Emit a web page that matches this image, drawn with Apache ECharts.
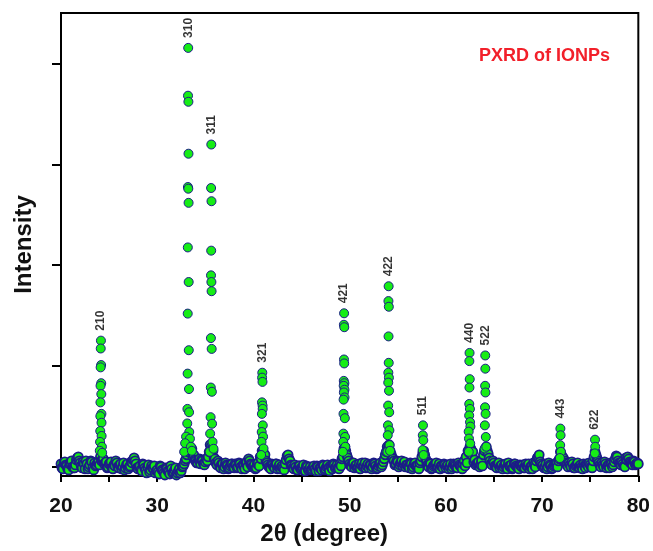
<!DOCTYPE html>
<html>
<head>
<meta charset="utf-8">
<script src="https://cdn.jsdelivr.net/npm/echarts@6/dist/echarts.min.js"></script>
<style>
  html, body { margin: 0; padding: 0; background: #fff; }
  #chart { width: 653px; height: 551px; }
</style>
</head>
<body>
<div id="chart"></div>
<script>
// background scan, one value every 0.2 degree from 20.0 to 80.0
var bgStart = 20;
var bgStep = 0.2;
var background = [
  30, -20, 50, 10, -30, 40, 0, -10, 70, 100,
  40, -10, 30, 60, -20, 20, 50, -30, 10, 40,
  20, 60, 80, 40, -10, 30, 50, -20, 10, 40,
  -10, 30, 0, -30, 20, -20, 10, 40, 90, 30,
  -20, 10, -40, 20, -30, 0, -50, 10, -20, -60,
  -30, -70, 0, -40, -80, -20, -50, 10, -60, -30,
  -80, -40, -60, 0, 30, 80, 150, 200, 180, 120,
  60, 40, 80, 70, 30, 50, 60, 150, 200, 160,
  80, 20, 40, -10, 30, 0, 20, -20, 10, 30,
  -10, 20, 0, 30, -20, 10, 40, 0, 60, 20,
  0, -20, 30, 10, 80, 150, 120, 40, 0, -20,
  20, -10, 30, 0, -20, 10, -30, 70, 120, 60,
  10, -20, 0, -30, 10, -10, 20, -40, 0, -20,
  -30, 0, -20, 10, -40, -10, 20, -30, 0, -10,
  10, -20, 20, 0, -10, 30, 80, 180, 160, 90,
  30, 0, 40, 10, -10, 30, 20, 0, 40, 10,
  -10, 20, 0, 30, -20, 10, 40, 20, 80, 150,
  180, 160, 100, 60, 30, 50, 20, 60, 30, 0,
  20, -10, 30, 0, 40, 10, -20, 60, 140, 120,
  50, 0, 30, -10, 20, 40, 0, -20, 10, 30,
  -10, 20, 0, -20, 30, 10, -10, 20, 0, 30,
  10, 40, 140, 180, 150, 70, 30, 50, 20, 10,
  160, 200, 130, 60, 20, 40, 0, 30, -10, 20,
  0, 30, -20, 10, 20, -10, 30, 0, -20, 10,
  20, -10, 10, 30, 0, -20, 20, 60, 100, 50,
  10, -10, 30, 0, 20, -20, 10, 30, 0, 80,
  120, 90, 60, 20, 40, 0, 30, -10, 20, 0,
  20, -20, 10, 30, 0, 20, -10, 100, 120, 60,
  20, 40, 0, 30, 10, -10, 30, 20, 80, 100,
  40, 20, 30, 0, 70, 80, 40, 20, 50, 30,
  30
];
// the in-between readings, 20.1 to 79.9
var bgStart2 = 20.1;
var background2 = [
  -10, 40, 20, -20, 30, 60, -10, 20, 90, 60,
  10, 50, -20, 30, 0, 60, -10, 40, 20, 50,
  100, 70, 30, 50, 0, 40, -10, 20, 60, 0,
  20, -20, 40, -10, 30, 0, 50, 70, 60, -10,
  0, -30, 30, -10, -60, 20, -30, -10, 10, -40,
  -50, 10, -30, -60, -10, -40, -70, -20, -50, -10,
  -60, -20, -40, 10, 60, 120, 200, 160, 100, 70,
  40, 70, 30, 60, 20, 80, 100, 220, 180, 90,
  40, 60, 0, 30, -20, 40, 10, -10, 30, 0,
  30, -10, 40, 0, 20, -20, 50, 80, 30, 0,
  20, -10, 40, 100, 160, 130, 60, 20, -10, 30,
  0, 30, -20, 20, 0, -10, 30, 110, 80, 20,
  -10, 20, -30, 10, -20, 0, -40, 10, -30, 0,
  -20, 10, -40, 0, -10, -30, 10, -20, 20, -40,
  0, 30, -10, 20, -20, 10, 100, 200, 120, 60,
  10, 40, -10, 20, 0, -20, 40, 10, -10, 30,
  20, -20, 40, 10, -10, 30, 0, 50, 120, 200,
  220, 130, 80, 20, 60, 0, 40, 10, 50, 20,
  0, 40, -20, 30, 10, 20, 40, 100, 160, 80,
  20, 40, -20, 10, 30, -10, 30, 10, -10, 20,
  10, -20, 30, 0, 20, -10, 40, 10, -20, 60,
  100, 160, 200, 120, 50, 20, 40, 0, 60, 120,
  180, 160, 90, 30, 60, 10, -10, 40, 10, -20,
  20, -10, 40, 0, -20, 30, 10, -10, 20, 0,
  -10, 30, 0, -20, 10, 40, 0, 90, 120, 30,
  20, 0, -20, 40, 10, -10, 20, 40, 60, 150,
  100, 50, 40, 0, 20, 50, -10, 10, 40, -10,
  0, 30, -10, 20, 40, 0, 60, 150, 90, 40,
  0, 20, 50, -10, 20, 40, 0, 50, 110, 60,
  30, 50, 10, 90, 100, 50, 30, 60, 20, 40
];

// points on each reflection [2theta, intensity]
var peak210 = [[24.15,1252],[24.13,1174],[24.17,1010],[24.12,987],[24.18,830],[24.11,804],[24.19,722],[24.1,640],[24.2,526],[24.09,503],[24.21,438],[24.08,356],[24.22,307],[24.06,248],[24.25,200],[24.03,160],[24.28,140]];
var peak310 = [[33.22,4154],[33.2,3680],[33.24,3620],[33.25,3105],[33.19,2775],[33.23,2758],[33.26,2618],[33.18,2176],[33.27,1833],[33.17,1520],[33.28,1157],[33.16,925],[33.3,772],[33.14,575],[33.31,542],[33.12,431],[33.33,346],[33.0,300],[33.4,280],[32.9,235],[33.5,200],[32.8,150],[33.6,160]];
var peak311 = [[35.62,3196],[35.6,2765],[35.64,2634],[35.61,2144],[35.59,1899],[35.63,1833],[35.65,1742],[35.58,1277],[35.66,1170],[35.57,787],[35.68,745],[35.55,493],[35.7,428],[35.5,330],[35.75,248],[35.45,150],[35.85,180]];
var peak321 = [[40.92,934],[40.9,885],[40.94,843],[40.89,640],[40.95,608],[40.96,575],[40.88,526],[40.97,412],[40.86,346],[41.0,300],[40.84,248],[41.05,183],[40.8,118]];
var peak421 = [[49.42,1523],[49.4,1409],[49.44,1385],[49.41,1065],[49.43,1026],[49.39,853],[49.45,830],[49.38,804],[49.46,765],[49.4,738],[49.47,689],[49.37,667],[49.36,526],[49.5,483],[49.35,330],[49.52,297],[49.33,248],[49.55,200],[49.3,150]];
var peak422 = [[54.05,1791],[54.03,1644],[54.07,1588],[54.04,1294],[54.06,1032],[54.02,934],[54.08,885],[54.01,836],[54.09,755],[54.0,608],[54.11,542],[53.98,412],[54.13,363],[53.96,314],[54.15,216],[53.93,150],[54.2,160]];
var peak511 = [[57.62,412],[57.6,314],[57.65,265],[57.58,167],[57.68,118]];
var peak440 = [[62.46,1130],[62.44,1049],[62.48,870],[62.45,787],[62.43,624],[62.5,575],[62.42,510],[62.51,444],[62.55,400],[62.37,350],[62.4,281],[62.53,232],[62.38,150]];
var peak522 = [[64.09,1105],[64.1,974],[64.08,804],[64.11,738],[64.07,591],[64.13,526],[64.05,412],[64.15,297],[64.03,183],[64.2,200]];
var peak443 = [[71.9,380],[71.92,314],[71.88,216],[71.95,150],[71.85,88]];
var peak622 = [[75.5,270],[75.52,200],[75.48,134]];

// Miller indices written above the peaks
var hklNames = ['210', '310', '311', '321', '421', '422', '511', '440', '522', '443', '622'];
var hklAngles = [24.15, 33.22, 35.62, 40.92, 49.42, 54.05, 57.62, 62.46, 64.09, 71.9, 75.5];
var hklTops = [1252, 4154, 3196, 934, 1523, 1791, 412, 1130, 1105, 380, 270];

var xTickLabels = [20, 30, 40, 50, 60, 70, 80];
var yTicks = [0, 1000, 2000, 3000, 4000];

var bgPoints = [];
for (var i = 0; i < background.length; i++) {
  bgPoints.push([+(bgStart + i * bgStep).toFixed(1), background[i]]);
  if (i < background2.length) {
    bgPoints.push([+(bgStart2 + i * bgStep).toFixed(1), background2[i]]);
  }
}
var peakPoints = [].concat(peak210, peak310, peak311, peak321, peak421, peak422,
  peak511, peak440, peak522, peak443, peak622);
var labelPoints = hklNames.map(function (n, i) {
  return { name: n, value: [hklAngles[i], hklTops[i]] };
});

var font = 'Liberation Sans, Arial, sans-serif';
var green = '#16ec16';
var navy = '#1c1c88';

var myChart = echarts.init(document.getElementById('chart'), null, { renderer: 'canvas' });

var option = {
  backgroundColor: '#fff',
  animation: false,
  title: {
    text: 'PXRD of IONPs',
    right: 38,
    top: 42,
    textStyle: { color: '#f2202a', fontFamily: font, fontWeight: 'bold', fontSize: 18 }
  },
  grid: {
    left: 61, right: 14, top: 13, bottom: 70,
    show: true, borderColor: '#000', borderWidth: 2, backgroundColor: 'transparent'
  },
  xAxis: {
    type: 'value',
    min: 20, max: 80, interval: 5,
    name: '2θ (degree)',
    nameLocation: 'middle',
    nameGap: 46,
    nameTextStyle: { color: '#111', fontFamily: font, fontWeight: 'bold', fontSize: 24, padding: [0, 51, 0, 0] },
    axisLine: { onZero: false, lineStyle: { color: '#000', width: 2 } },
    axisTick: { length: 6, lineStyle: { color: '#000', width: 2 } },
    axisLabel: {
      customValues: xTickLabels,
      margin: 20,
      color: '#111', fontFamily: font, fontWeight: 'bold', fontSize: 21
    },
    splitLine: { show: false }
  },
  yAxis: {
    type: 'value',
    min: -90, max: 4500,
    name: 'Intensity',
    nameLocation: 'middle',
    nameGap: 25,
    nameTextStyle: { color: '#111', fontFamily: font, fontWeight: 'bold', fontSize: 24 },
    axisLine: { show: true, onZero: false, lineStyle: { color: '#000', width: 2 } },
    axisTick: { show: true, customValues: yTicks, length: 9, lineStyle: { color: '#000', width: 2 } },
    axisLabel: { show: false },
    splitLine: { show: false }
  },
  series: [
    {
      name: 'background',
      type: 'scatter',
      symbol: 'circle',
      symbolSize: 9,
      itemStyle: { color: green, borderColor: navy, borderWidth: 1.8, opacity: 1 },
      data: bgPoints
    },
    {
      name: 'peaks',
      type: 'scatter',
      symbol: 'circle',
      symbolSize: 9,
      itemStyle: { color: green, borderColor: navy, borderWidth: 1, opacity: 1 },
      data: peakPoints
    },
    {
      name: 'hkl',
      type: 'scatter',
      symbolSize: 0,
      silent: true,
      label: {
        show: true,
        formatter: '{b}',
        position: 'top',
        distance: 10,
        rotate: 90,
        align: 'left',
        verticalAlign: 'middle',
        color: '#000',
        fontFamily: font,
        fontWeight: 'bold',
        fontSize: 12
      },
      data: labelPoints
    }
  ]
};
myChart.setOption(option);
</script>
</body>
</html>
